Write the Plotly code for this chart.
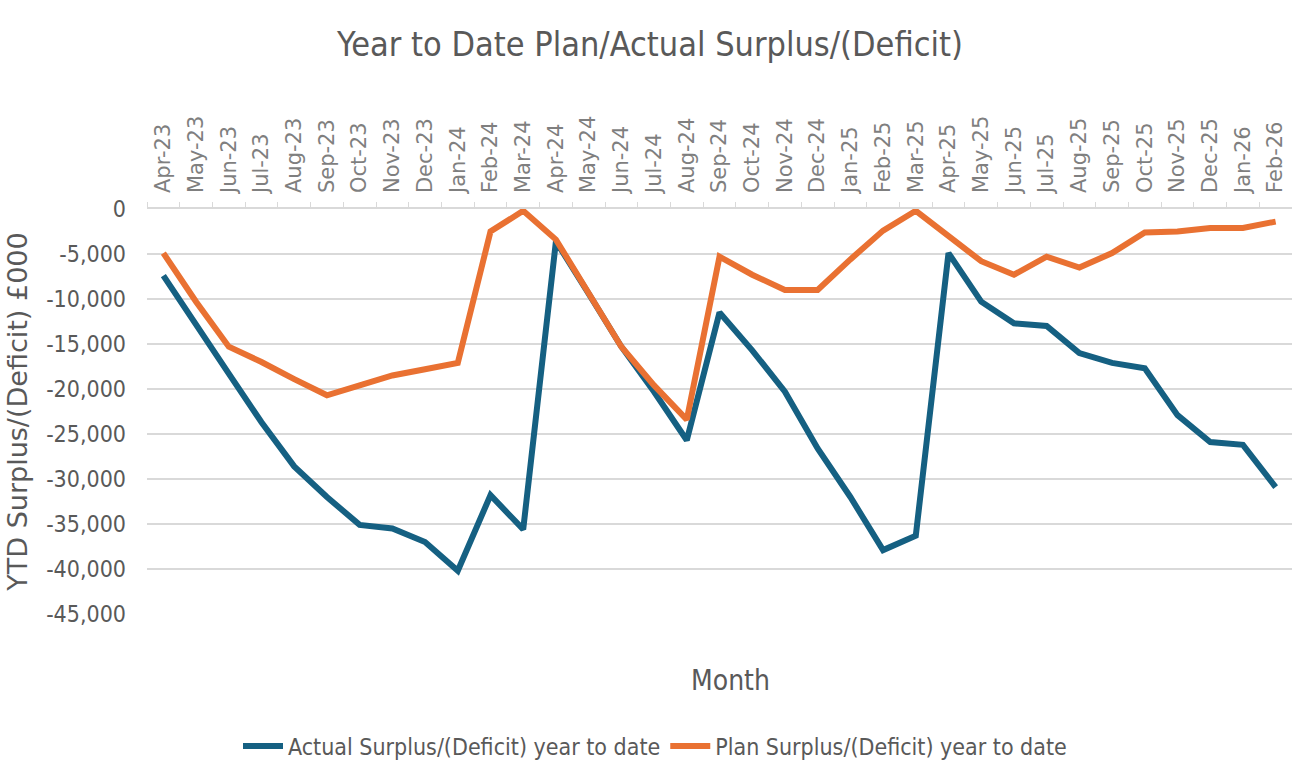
import plotly.graph_objects as go

# Month categories (financial years Apr-23 to Feb-26)
months = [
    "Apr-23", "May-23", "Jun-23", "Jul-23", "Aug-23", "Sep-23", "Oct-23", "Nov-23",
    "Dec-23", "Jan-24", "Feb-24", "Mar-24", "Apr-24", "May-24", "Jun-24", "Jul-24",
    "Aug-24", "Sep-24", "Oct-24", "Nov-24", "Dec-24", "Jan-25", "Feb-25", "Mar-25",
    "Apr-25", "May-25", "Jun-25", "Jul-25", "Aug-25", "Sep-25", "Oct-25", "Nov-25",
    "Dec-25", "Jan-26", "Feb-26",
]

# Year-to-date actual surplus/(deficit), £000
actual_ytd = [
    -7400, -13000, -18300, -23700, -28600, -32000, -35100, -35500,
    -37000, -40200, -31800, -35600, -3600, -9400, -15300, -20300,
    -25700, -11500, -15700, -20300, -26600, -32000, -37900, -36300,
    -4900, -10300, -12700, -13000, -16000, -17100, -17700, -22900,
    -25900, -26200, -30900,
]

# Year-to-date plan surplus/(deficit), £000
plan_ytd = [
    -4900, -10300, -15300, -17000, -18900, -20700, -19600, -18500,
    -17800, -17100, -2500, -200, -3400, -9300, -15300, -19600,
    -23400, -5300, -7300, -9000, -9000, -5600, -2400, -200,
    -3100, -5800, -7300, -5300, -6500, -4900, -2600, -2500,
    -2100, -2100, -1400,
]

# Value-axis ticks
y_ticks = [0, -5000, -10000, -15000, -20000, -25000, -30000, -35000, -40000, -45000]
y_tick_labels = ["0", "-5,000", "-10,000", "-15,000", "-20,000", "-25,000",
                 "-30,000", "-35,000", "-40,000", "-45,000"]

NARROW = "Liberation Sans Narrow, DejaVu Sans Condensed, Arial Narrow, sans-serif"
TEXT_GREY = "#595959"
GRID_GREY = "#d9d9d9"

fig = go.Figure()

fig.add_trace(go.Scatter(
    x=months, y=actual_ytd, mode="lines",
    name="Actual Surplus/(Deficit) year to date",
    line=dict(color="#156082", width=6),
    cliponaxis=False,
))
fig.add_trace(go.Scatter(
    x=months, y=plan_ytd, mode="lines",
    name="Plan Surplus/(Deficit) year to date",
    line=dict(color="#e97132", width=6),
    cliponaxis=False,
))

fig.update_layout(
    width=1292, height=764,
    margin=dict(l=147, r=0, t=209, b=150),
    paper_bgcolor="white", plot_bgcolor="white",
    title=dict(
        text="Year to Date Plan/Actual Surplus/(Deficit)",
        font=dict(family=NARROW, size=34, color=TEXT_GREY),
        x=650 / 1292, xanchor="center", xref="container",
        y=1 - 44 / 764, yanchor="middle", yref="container",
    ),
    showlegend=True,
    legend=dict(
        orientation="h",
        xref="container", yref="container",
        x=655 / 1292, xanchor="center",
        y=1 - 746 / 764, yanchor="middle",
        font=dict(family=NARROW, size=23, color=TEXT_GREY),
        itemwidth=40,
        tracegroupgap=0,
        bgcolor="rgba(0,0,0,0)",
    ),
    xaxis=dict(
        type="category",
        side="top",
        range=[-0.5, len(months) - 0.5],
        tickangle=-90,
        tickfont=dict(family="DejaVu Sans, sans-serif", size=21, color="#7f7f7f"),
        ticks="outside", ticklen=5, tickcolor=GRID_GREY, tickwidth=1,
        tickson="boundaries",
        ticklabelstandoff=10,
        showline=True, linecolor=GRID_GREY, linewidth=1.5,
        showgrid=False, zeroline=False,
    ),
    yaxis=dict(
        range=[-45000, 0],
        tickvals=y_ticks, ticktext=y_tick_labels,
        tickfont=dict(family=NARROW, size=23, color=TEXT_GREY),
        ticklabelstandoff=20,
        showgrid=True, gridcolor=GRID_GREY, gridwidth=1.5,
        zeroline=False, showline=False,
        title=dict(
            text="YTD Surplus/(Deficit) £000",
            font=dict(family="DejaVu Sans, sans-serif", size=27, color=TEXT_GREY),
            standoff=10,
        ),
    ),
    annotations=[
        dict(
            text="Month", showarrow=False,
            xref="paper", yref="paper",
            x=(730 - 147) / 1145, y=(614 - 680) / 405,
            xanchor="center", yanchor="middle",
            font=dict(family=NARROW, size=28, color=TEXT_GREY),
        )
    ],
)

fig.write_html("out.html")
